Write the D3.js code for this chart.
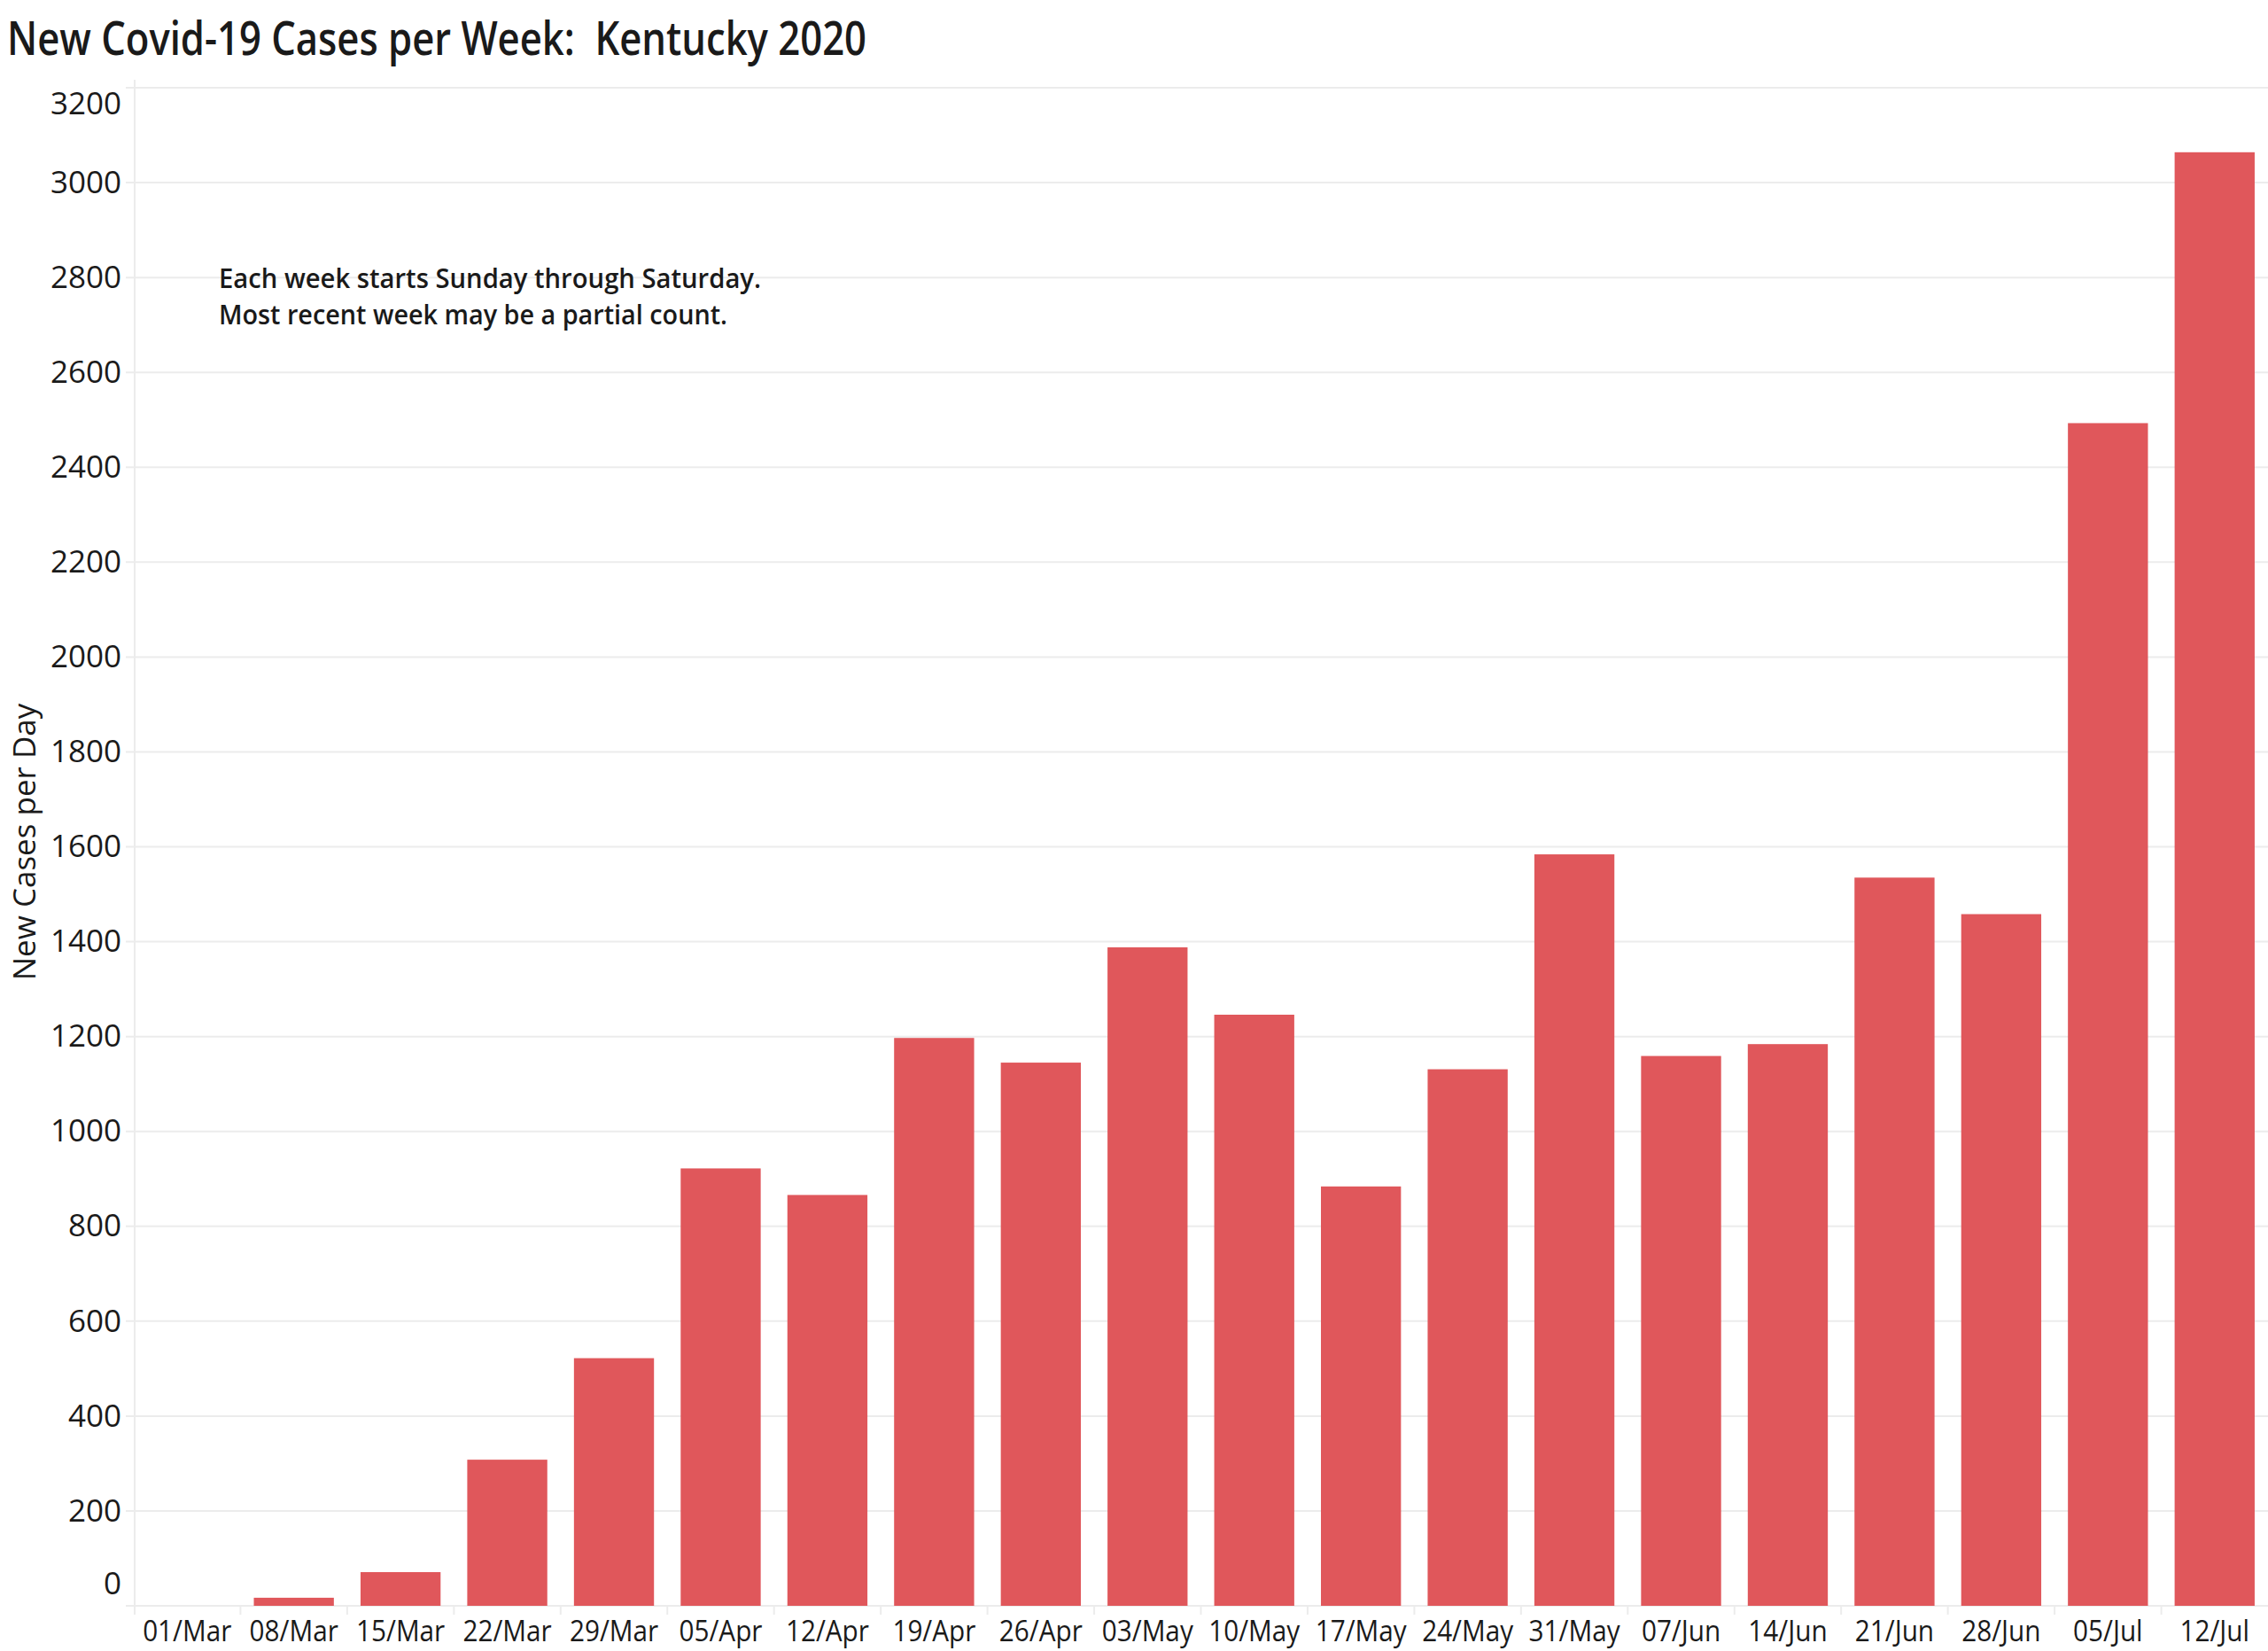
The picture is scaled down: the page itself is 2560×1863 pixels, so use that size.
<!DOCTYPE html>
<html>
<head>
<meta charset="utf-8">
<script src="https://cdn.jsdelivr.net/npm/d3@7"></script>
<style>
    body { margin: 0; background: #fff; }
    svg text { font-family: "Open Sans", "Noto Sans", sans-serif; fill: #1a1a1a; }
</style>
</head>
<body>
<div id="chart"></div>
<script>
// week starts (Sunday) and new cases counted in that week
const weeks = ['01/Mar', '08/Mar', '15/Mar', '22/Mar', '29/Mar', '05/Apr', '12/Apr', '19/Apr', '26/Apr', '03/May',
    '10/May', '17/May', '24/May', '31/May', '07/Jun', '14/Jun', '21/Jun', '28/Jun', '05/Jul', '12/Jul'];
const newCases = [0, 17, 71, 308, 522, 922, 866, 1197, 1145, 1388,
    1246, 884, 1131, 1584, 1159, 1184, 1535, 1458, 2493, 3064];
const yTickValues = [0, 200, 400, 600, 800, 1000, 1200, 1400, 1600, 1800, 2000, 2200, 2400, 2600, 2800, 3000, 3200];

const titleText = 'New Covid-19 Cases per Week:  Kentucky 2020';
const yAxisTitle = 'New Cases per Day';
const noteLines = ['Each week starts Sunday through Saturday.', 'Most recent week may be a partial count.'];

const svgWidth = 2560;
const svgHeight = 1863;

const svg = d3.select('#chart')
    .append('svg')
    .attr('width', svgWidth)
    .attr('height', svgHeight);

const margins = {t: 99, r: 0, b: 51, l: 151};
const graphWidth = svgWidth - margins.l - margins.r;
const graphHeight = svgHeight - margins.t - margins.b;
const g = svg.append('g').attr('transform', `translate(${margins.l},${margins.t})`);

const x = d3.scaleBand()
    .domain(weeks)
    .range([0, graphWidth])
    .paddingInner(0.25)
    .paddingOuter(0.125);
const y = d3.scaleLinear().domain([0, 3200]).range([graphHeight, 0]);

const gridColor = '#ececec';

// horizontal gridlines
g.selectAll('line.grid')
    .data(yTickValues)
    .join('line')
    .attr('class', 'grid')
    .attr('x1', -9)
    .attr('x2', graphWidth)
    .attr('y1', d => y(d))
    .attr('y2', d => y(d))
    .attr('stroke', gridColor)
    .attr('stroke-width', 2);

// left axis rule
g.append('line')
    .attr('x1', 1).attr('x2', 1)
    .attr('y1', -9).attr('y2', graphHeight + 10)
    .attr('stroke', gridColor)
    .attr('stroke-width', 2);

// little separators between weeks under the baseline
const half = x.step() * x.paddingInner() / 2;
g.selectAll('line.sep')
    .data(weeks.slice(1))
    .join('line')
    .attr('class', 'sep')
    .attr('x1', d => x(d) - half)
    .attr('x2', d => x(d) - half)
    .attr('y1', graphHeight)
    .attr('y2', graphHeight + 10)
    .attr('stroke', gridColor)
    .attr('stroke-width', 2);

// bars
g.selectAll('rect.bar')
    .data(weeks.map((w, i) => ({week: w, value: newCases[i]})))
    .join('rect')
    .attr('class', 'bar')
    .attr('x', d => x(d.week))
    .attr('width', x.bandwidth())
    .attr('y', d => y(d.value))
    .attr('height', d => graphHeight - y(d.value))
    .attr('fill', '#e0575b');

// y axis labels
const yAxis = g.append('g')
    .attr('class', 'y-axis')
    .call(d3.axisLeft(y).tickValues(yTickValues).tickFormat(d3.format('d')).tickSize(0).tickPadding(14));
yAxis.select('.domain').remove();
yAxis.selectAll('text')
    .style('font-size', '35px')
    .attr('y', d => d === 3200 ? 18 : (d === 0 ? -25 : 0));

// x axis labels
const xAxis = g.append('g')
    .attr('class', 'x-axis')
    .attr('transform', `translate(0,${graphHeight})`)
    .call(d3.axisBottom(x).tickSize(0).tickPadding(17));
xAxis.select('.domain').remove();
xAxis.selectAll('text')
    .style('font-size', '33px')
    .each(function () {
        const len = this.getComputedTextLength();
        d3.select(this).attr('textLength', len * 0.9).attr('lengthAdjust', 'spacingAndGlyphs');
    });

//title
svg.append('text')
    .attr('x', 8)
    .attr('y', 62)
    .attr('textLength', 970)
    .attr('lengthAdjust', 'spacingAndGlyphs')
    .style('font-size', '52px')
    .style('font-weight', 600)
    .style('white-space', 'pre')
    .text(titleText);

//axis title
svg.append('text')
    .attr('text-anchor', 'middle')
    .attr('transform', 'translate(40,950) rotate(-90)')
    .style('font-size', '35px')
    .text(yAxisTitle);

//note
svg.selectAll('text.note')
    .data(noteLines)
    .join('text')
    .attr('class', 'note')
    .attr('x', 247)
    .attr('y', (d, i) => 325 + i * 41)
    .attr('textLength', (d, i) => i === 0 ? 612 : 574)
    .attr('lengthAdjust', 'spacingAndGlyphs')
    .style('font-size', '31px')
    .style('font-weight', 600)
    .text(d => d);
</script>
</body>
</html>
